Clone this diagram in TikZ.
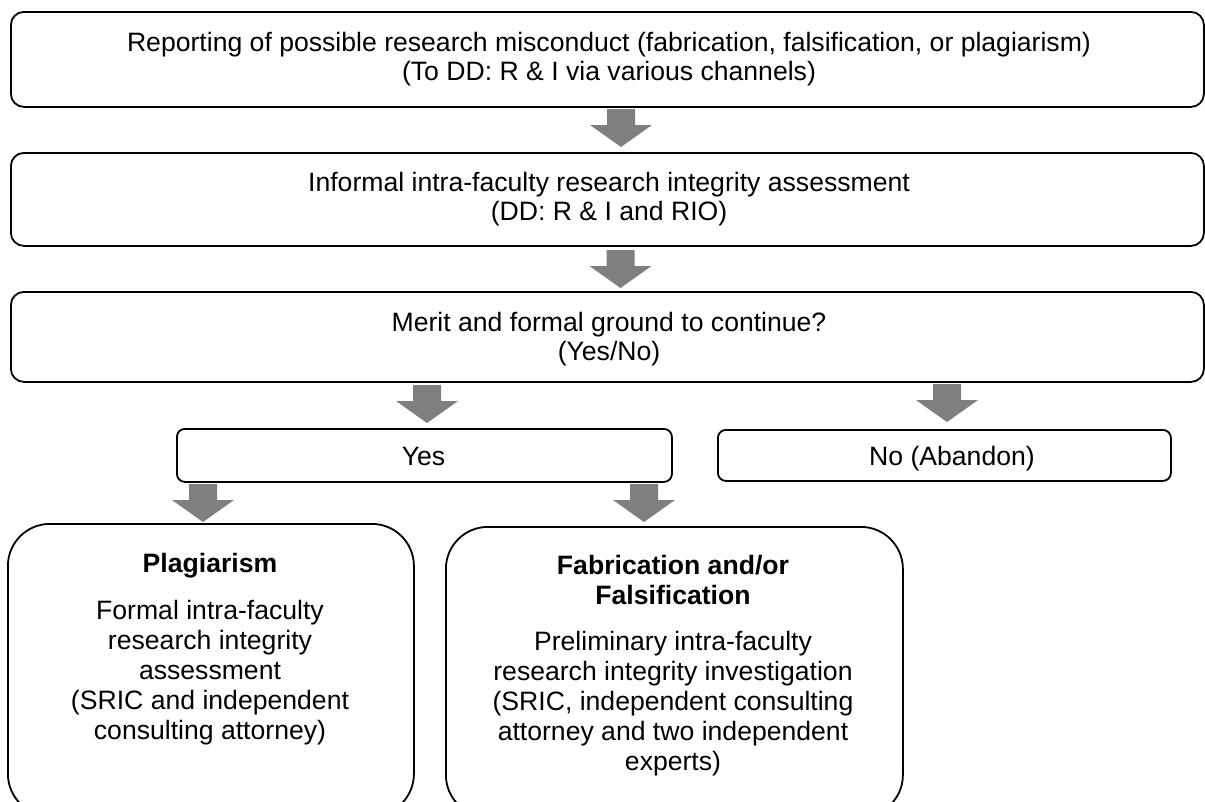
\documentclass[tikz,border=0pt]{standalone}
\usepackage{fontspec}
\setmainfont{Liberation Sans}
\definecolor{arrowgray}{HTML}{7F7F7F}
\begin{document}
\begin{tikzpicture}[x=1pt,y=-1pt,
  topbox/.style={draw=black, line width=1.8pt, rounded corners=13pt, inner sep=0pt, anchor=north west},
  smallbox/.style={draw=black, line width=1.8pt, rounded corners=8pt, inner sep=0pt, anchor=north west},
  bigbox/.style={draw=black, line width=1.8pt, rounded corners=42pt, inner sep=0pt, anchor=north west},
  txt/.style={inner sep=0pt, align=center, anchor=north, font=\fontsize{26.6}{29}\selectfont},
  bigtxt/.style={inner sep=0pt, align=center, anchor=north, font=\fontsize{26.6}{30}\selectfont},
  downarrow/.pic={\fill[arrowgray] (-14,0) -- (14,0) -- (14,16) -- (31,16) -- (0,38) -- (-31,16) -- (-14,16) -- cycle;}
]
\useasboundingbox (0,0) rectangle (1205,801);
\clip (0,0) rectangle (1205,801);

% top boxes
\node[topbox, minimum width=1193pt, minimum height=95pt] (b1) at (10,11) {};
\node[txt] (t1) at (609,32) {Reporting of possible research misconduct (fabrication, falsification, or plagiarism)\\(To DD: R \& I via various channels)};

\node[topbox, minimum width=1193pt, minimum height=93pt] (b2) at (10,152) {};
\node[txt] (t2) at (609,172) {Informal intra-faculty research integrity assessment\\(DD: R \& I and RIO)};

\node[topbox, minimum width=1193pt, minimum height=90pt] (b3) at (10,291) {};
\node[txt] (t3) at (609,312) {Merit and formal ground to continue?\\(Yes/No)};

% yes / no
\node[smallbox, minimum width=495pt, minimum height=53pt] (yes) at (176,428) {};
\node[txt] (tyes) at (423.5,446.5) {Yes};
\node[smallbox, minimum width=453pt, minimum height=51pt] (no) at (717,429) {};
\node[txt] (tno) at (952,446.5) {No (Abandon)};

% bottom boxes
\node[bigbox, minimum width=406pt, minimum height=292pt] (plag) at (7,523) {};
\node[bigtxt] (tplag) at (210,553.5) {\bfseries Plagiarism\\[17pt]Formal intra-faculty\\research integrity\\assessment\\(SRIC and independent\\consulting attorney)};

\node[bigbox, minimum width=457pt, minimum height=290pt] (fab) at (445,526) {};
\node[bigtxt] (tfab) at (673,555.5) {\bfseries Fabrication and/or\\\bfseries Falsification\\[16pt]Preliminary intra-faculty\\research integrity investigation\\(SRIC, independent consulting\\attorney and two independent\\experts)};

% block arrows
\pic at (621,109) {downarrow};
\pic at (620.5,250) {downarrow};
\pic at (427,385) {downarrow};
\pic at (947,384) {downarrow};
\pic at (203,484) {downarrow};
\pic at (644,484) {downarrow};
\end{tikzpicture}
\end{document}
